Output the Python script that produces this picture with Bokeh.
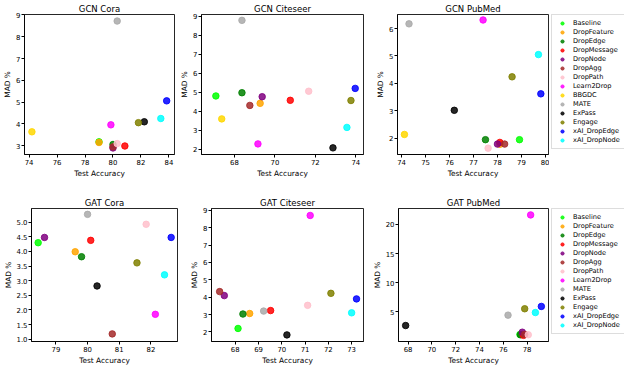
from bokeh.plotting import figure
from bokeh.layouts import row, column
from bokeh.models import Range1d, FixedTicker, Legend, LegendItem, PrintfTickFormatter
from bokeh.embed import file_html
from bokeh.resources import INLINE

# ---------------- data ----------------
methods = ["Baseline", "DropFeature", "DropEdge", "DropMessage", "DropNode", "DropAgg",
           "DropPath", "Learn2Drop", "BBGDC", "MATE", "ExPass", "Engage",
           "xAI_DropEdge", "xAI_DropNode"]
colors = ["lime", "orange", "green", "red", "purple", "brown", "pink", "magenta",
          "gold", "darkgray", "black", "olive", "blue", "cyan"]
gat_methods = [m for m in methods if m != "BBGDC"]

# GCN (14 methods, incl. BBGDC)
gcn_cora_acc = [79.0, 79.0, 80.0, 80.85, 80.0, 80.0, 80.3, 79.85, 74.2, 80.3, 82.24, 81.82, 83.84, 83.42]
gcn_cora_mad = [3.18, 3.15, 3.06, 2.99, 2.9, 2.95, 3.1, 3.96, 3.64, 8.72, 4.1, 4.06, 5.06, 4.25]

gcn_cite_acc = [67.08, 69.27, 68.37, 70.76, 69.37, 68.76, 71.67, 69.16, 67.37, 68.37, 72.87, 73.76, 73.97, 73.56]
gcn_cite_mad = [4.8, 4.41, 4.97, 4.57, 4.76, 4.3, 5.05, 2.27, 3.59, 8.79, 2.06, 4.56, 5.2, 3.14]

gcn_pub_acc = [78.92, 78.1, 77.5, 78.1, 78.0, 78.3, 77.61, 77.4, 74.12, 74.31, 76.2, 78.61, 79.81, 79.71]
gcn_pub_mad = [1.95, 1.78, 1.95, 1.85, 1.79, 1.79, 1.64, 6.31, 2.14, 6.17, 3.02, 4.24, 3.62, 5.05]

# GAT (13 methods, no BBGDC)
gat_cora_acc = [78.44, 79.61, 79.81, 80.1, 78.64, 80.78, 81.85, 82.14, 80.0, 80.3, 81.56, 82.64, 82.43]
gat_cora_mad = [4.3, 3.99, 3.82, 4.38, 4.48, 1.18, 4.93, 1.85, 5.27, 2.82, 3.61, 4.48, 3.2]

gat_cite_acc = [68.12, 68.62, 68.33, 69.52, 67.53, 67.33, 71.11, 71.22, 69.22, 70.22, 72.11, 73.21, 73.0]
gat_cite_mad = [2.2, 3.06, 3.03, 3.23, 4.09, 4.32, 3.53, 8.7, 3.2, 1.83, 4.22, 3.9, 3.1]

gat_pub_acc = [77.4, 77.6, 77.45, 77.7, 77.6, 77.8, 78.1, 78.3, 76.4, 67.8, 77.8, 79.2, 78.7]
gat_pub_mad = [1.15, 1.2, 1.1, 1.0, 1.54, 1.15, 1.1, 21.6, 4.46, 2.68, 5.55, 5.95, 4.9]

# axis limits and ticks
gcn_cora_xlim, gcn_cora_ylim = (73.67, 84.4), (2.6, 9.02)
gcn_cite_xlim, gcn_cite_ylim = (66.37, 74.38), (1.71, 9.1)
gcn_pub_xlim, gcn_pub_ylim = (73.83, 80.13), (1.41, 6.51)
gat_cora_xlim, gat_cora_ylim = (78.23, 82.84), (0.92, 5.47)
gat_cite_xlim, gat_cite_ylim = (66.98, 73.51), (1.45, 9.1)
gat_pub_xlim, gat_pub_ylim = (67.2, 79.8), (-0.05, 22.7)

gcn_cora_xticks, gcn_cora_yticks = [74, 76, 78, 80, 82, 84], [3, 4, 5, 6, 7, 8, 9]
gcn_cite_xticks, gcn_cite_yticks = [68, 70, 72, 74], [2, 3, 4, 5, 6, 7, 8, 9]
gcn_pub_xticks, gcn_pub_yticks = [74, 75, 76, 77, 78, 79, 80], [2, 3, 4, 5, 6]
gat_cora_xticks, gat_cora_yticks = [79, 80, 81, 82], [1.0, 1.5, 2.0, 2.5, 3.0, 3.5, 4.0, 4.5, 5.0]
gat_cite_xticks, gat_cite_yticks = [68, 69, 70, 71, 72, 73], [2, 3, 4, 5, 6, 7, 8, 9]
gat_pub_xticks, gat_pub_yticks = [68, 70, 72, 74, 76, 78], [5, 10, 15, 20]

FONT = "DejaVu Sans"


def make_panel(title, mlist, acc, mad, xlim, ylim, xticks, yticks, width, height,
               bl, br, bt, bb, yfmt=None):
    p = figure(width=width, height=height, title=title,
               x_range=Range1d(*xlim), y_range=Range1d(*ylim),
               output_backend="svg", toolbar_location=None,
               min_border_left=bl, min_border_right=br,
               min_border_top=bt, min_border_bottom=bb)
    p.title.align = "center"
    p.title.text_font = FONT
    p.title.text_font_style = "normal"
    p.title.text_font_size = "8.5px"
    p.title.text_color = "black"
    p.title.standoff = 2
    p.grid.visible = False
    p.outline_line_color = "black"
    p.outline_line_width = 1
    p.outline_line_alpha = 0.85
    p.xaxis.ticker = FixedTicker(ticks=xticks)
    p.yaxis.ticker = FixedTicker(ticks=yticks)
    if yfmt:
        p.yaxis.formatter = PrintfTickFormatter(format=yfmt)
    p.xaxis.axis_label = "Test Accuracy"
    p.yaxis.axis_label = "MAD %"
    for ax in (p.xaxis, p.yaxis):
        ax.axis_label_text_font = FONT
        ax.axis_label_text_font_style = "normal"
        ax.axis_label_text_font_size = "7.4px"
        ax.axis_label_text_color = "black"
        ax.axis_label_standoff = 1
        ax.major_label_text_font = FONT
        ax.major_label_text_font_size = "6.9px"
        ax.major_label_text_color = "black"
        ax.major_label_standoff = 1
        ax.major_tick_out = 3
        ax.major_tick_in = 0
        ax.minor_tick_out = 0
        ax.minor_tick_in = 0
        ax.axis_line_color = "black"
        ax.axis_line_alpha = 0.85
        ax.major_tick_line_color = "black"
    for m, a, v in zip(mlist, acc, mad):
        c = colors[methods.index(m)]
        p.scatter([a], [v], size=6.5, fill_color=c, line_color=c,
                  fill_alpha=0.85, line_alpha=0.85)
    return p


def make_legend(mlist, acc, mad, width, height, top):
    # legend-only figure: the points lie outside its (0..1) view, only the legend shows
    p = figure(width=width, height=height, x_range=Range1d(0, 1), y_range=Range1d(0, 1),
               output_backend="svg", toolbar_location=None,
               min_border_left=2, min_border_right=0, min_border_top=top, min_border_bottom=0)
    p.axis.visible = False
    p.grid.visible = False
    p.outline_line_color = None
    items = []
    for m, a, v in zip(mlist, acc, mad):
        c = colors[methods.index(m)]
        r = p.scatter([a], [v], size=6.5, fill_color=c, line_color=c,
                      fill_alpha=0.85, line_alpha=0.85)
        items.append(LegendItem(label=m, renderers=[r]))
    lg = Legend(items=items, location="top_left")
    lg.margin = 0
    lg.padding = 4
    lg.spacing = 1
    lg.glyph_width = 12
    lg.glyph_height = 8
    lg.label_height = 8
    lg.label_standoff = 5
    lg.label_text_font = FONT
    lg.label_text_font_size = "6.6px"
    lg.label_text_color = "black"
    lg.border_line_color = "#bbbbbb"
    lg.border_line_width = 1
    lg.background_fill_alpha = 1
    p.add_layout(lg)
    return p


pA = make_panel("GCN Cora", methods, gcn_cora_acc, gcn_cora_mad, gcn_cora_xlim, gcn_cora_ylim,
                gcn_cora_xticks, gcn_cora_yticks, 177, 180, 17, 3, 12, 22)
pB = make_panel("GCN Citeseer", methods, gcn_cite_acc, gcn_cite_mad, gcn_cite_xlim, gcn_cite_ylim,
                gcn_cite_xticks, gcn_cite_yticks, 196, 180, 20, 10, 12, 22)
pC = make_panel("GCN PubMed", methods, gcn_pub_acc, gcn_pub_mad, gcn_pub_xlim, gcn_pub_ylim,
                gcn_pub_xticks, gcn_pub_yticks, 176, 180, 20, 1, 12, 22)
lC = make_legend(methods, gcn_pub_acc, gcn_pub_mad, 75, 180, 6)

pD = make_panel("GAT Cora", gat_methods, gat_cora_acc, gat_cora_mad, gat_cora_xlim, gat_cora_ylim,
                gat_cora_xticks, gat_cora_yticks, 187, 187, 24, 10, 19, 22, yfmt="%.1f")
pE = make_panel("GAT Citeseer", gat_methods, gat_cite_acc, gat_cite_mad, gat_cite_xlim, gat_cite_ylim,
                gat_cite_xticks, gat_cite_yticks, 182, 187, 20, 6, 19, 22)
pF = make_panel("GAT PubMed", gat_methods, gat_pub_acc, gat_pub_mad, gat_pub_xlim, gat_pub_ylim,
                gat_pub_xticks, gat_pub_yticks, 180, 187, 24, 1, 19, 22)
lF = make_legend(gat_methods, gat_pub_acc, gat_pub_mad, 75, 187, 28)

layout = column(row(pA, pB, pC, lC), row(pD, pE, pF, lF))

open("out.html", "w").write(file_html(layout, INLINE))
